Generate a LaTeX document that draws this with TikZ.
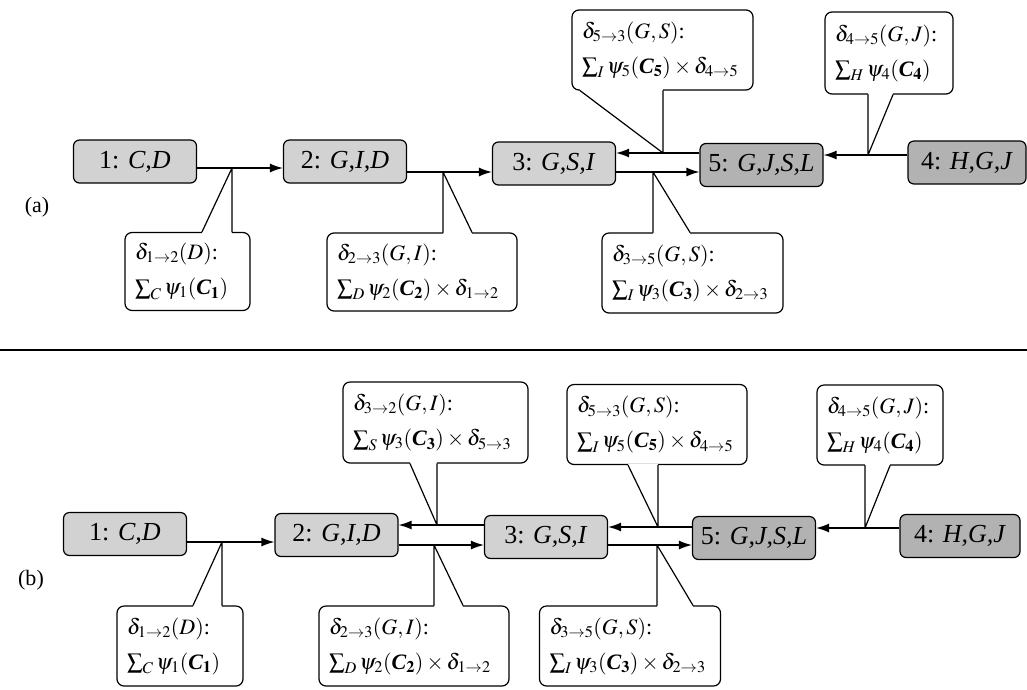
\documentclass[tikz,border=0pt]{standalone}
\usepackage{mathptmx}
\usepackage[no-math]{fontspec}
\setmainfont{Liberation Serif}
\usetikzlibrary{arrows.meta}
\newcommand{\myC}{\mbox{\bfseries\itshape C}}
\tikzset{
  nd/.style={draw, line width=1.2pt, rounded corners=6pt, minimum width=123pt, minimum height=43pt, inner sep=0pt, font=\fontsize{26}{30}\selectfont},
  ndl/.style={nd, fill=gray!35},
  ndd/.style={nd, fill=gray!60},
  cbox/.style={draw, line width=1.2pt, rounded corners=7pt, fill=white, inner xsep=10pt, inner ysep=0pt, align=left, font=\fontsize{22}{35}\selectfont},
  cline/.style={line width=1.2pt, line join=round, line cap=round},
  arr/.style={-{Latex[length=13pt,width=9pt]}, line width=1.3pt},
  lbl/.style={font=\fontsize{22}{26}\selectfont}
}
% #1 callout node, #2 tip coordinate, #3 x of slant base, #4 edge anchor
\newcommand{\mkptr}[4]{%
  \coordinate (pb) at (#3,0);
  \fill[white] (pb |- #1.#4) -- (#2) -- (#2 |- #1.#4) -- cycle;
  \fill[white] ([yshift=-1.6pt]pb |- #1.#4) rectangle ([yshift=1.6pt]#2 |- #1.#4);
  \draw[cline] (pb |- #1.#4) -- (#2) -- (#2 |- #1.#4);
}
\begin{document}
\begin{tikzpicture}[x=1pt,y=-1pt]
\useasboundingbox (0,0) rectangle (1027,689);

% ---------- panel (a) ----------
\node[ndl] (n1a) at (135,161.5) {1: \textit{C,D}};
\node[ndl] (n2a) at (345,161.5) {2: \textit{G,I,D}};
\node[ndl] (n3a) at (554,163.5) {3: \textit{G,S,I}};
\node[ndd] (n5a) at (761.5,165) {5: \textit{G,J,S,L}};
\node[ndd, minimum width=118pt] (n4a) at (967,162.5) {4: \textit{H,G,J}};

\coordinate (t12a) at (232,168);
\coordinate (t23a) at (443,172);
\coordinate (t35a) at (653,172);
\coordinate (t53a) at (663,153);
\coordinate (t45a) at (868,155);

\node[cbox, text width=105pt, minimum height=78pt] (c12a) at (187.5,271.5)
  {$\delta_{1\to2}(D)$:\\ $\sum_C \psi_1(\myC_{\mathbf 1})$};
\node[cbox, text width=170pt, minimum height=78pt] (c23a) at (422,272)
  {$\delta_{2\to3}(G,I)$:\\ $\sum_D \psi_2(\myC_{\mathbf 2})\times\delta_{1\to2}$};
\node[cbox, text width=161pt, minimum height=80pt] (c35a) at (692.5,273)
  {$\delta_{3\to5}(G,S)$:\\ $\sum_I \psi_3(\myC_{\mathbf 3})\times\delta_{2\to3}$};
\node[cbox, text width=161pt, minimum height=80pt] (c53a) at (662.5,50)
  {$\delta_{5\to3}(G,S)$:\\ $\sum_I \psi_5(\myC_{\mathbf 5})\times\delta_{4\to5}$};
\node[cbox, text width=108pt, minimum height=82pt] (c45a) at (889,53)
  {$\delta_{4\to5}(G,J)$:\\ $\sum_H \psi_4(\myC_{\mathbf 4})$};

\mkptr{c12a}{t12a}{202}{north}
\mkptr{c23a}{t23a}{472}{north}
\mkptr{c35a}{t35a}{690}{north}
\mkptr{c53a}{t53a}{580}{south}
\mkptr{c45a}{t45a}{893}{south}

\draw[arr] ([yshift=-6.5pt]n1a.east) -- ([yshift=-6.5pt]n2a.west);
\draw[arr] ([yshift=-10.5pt]n2a.east) -- ([yshift=-8.5pt]n3a.west);
\draw[arr] ([yshift=12pt]n5a.west) -- ([yshift=10.5pt]n3a.east);
\draw[arr] ([yshift=-8.5pt]n3a.east) -- ([yshift=-7pt]n5a.west);
\draw[arr] ([yshift=7.5pt]n4a.west) -- ([yshift=10pt]n5a.east);

\node[lbl] (la) at (37,207) {(a)};

% ---------- separator ----------
\coordinate (sepL) at (0,350);
\coordinate (sepR) at (1027,350);
\draw[line width=1.3pt] (sepL) -- (sepR);

% ---------- panel (b) ----------
\node[ndl] (n1b) at (125,534) {1: \textit{C,D}};
\node[ndl] (n2b) at (336.5,535) {2: \textit{G,I,D}};
\node[ndl] (n3b) at (546,537) {3: \textit{G,S,I}};
\node[ndd] (n5b) at (754,538) {5: \textit{G,J,S,L}};
\node[ndd, minimum width=120pt] (n4b) at (960,536) {4: \textit{H,G,J}};

\coordinate (t12b) at (222,542);
\coordinate (t23b) at (434,545);
\coordinate (t35b) at (657,545);
\coordinate (t32b) at (437,525);
\coordinate (t53b) at (658,527);
\coordinate (t45b) at (865,528);

\node[cbox, text width=165pt, minimum height=81pt] (c32b) at (435.5,422.5)
  {$\delta_{3\to2}(G,I)$:\\ $\sum_S \psi_3(\myC_{\mathbf 3})\times\delta_{5\to3}$};
\node[cbox, text width=160pt, minimum height=80pt] (c53b) at (657,424.5)
  {$\delta_{5\to3}(G,S)$:\\ $\sum_I \psi_5(\myC_{\mathbf 5})\times\delta_{4\to5}$};
\node[cbox, text width=106pt, minimum height=80pt] (c45b) at (880,425)
  {$\delta_{4\to5}(G,J)$:\\ $\sum_H \psi_4(\myC_{\mathbf 4})$};
\node[cbox, text width=106pt, minimum height=80pt] (c12b) at (180,646)
  {$\delta_{1\to2}(D)$:\\ $\sum_C \psi_1(\myC_{\mathbf 1})$};
\node[cbox, text width=170pt, minimum height=80pt] (c23b) at (414,646)
  {$\delta_{2\to3}(G,I)$:\\ $\sum_D \psi_2(\myC_{\mathbf 2})\times\delta_{1\to2}$};
\node[cbox, text width=161pt, minimum height=80pt] (c35b) at (630,646)
  {$\delta_{3\to5}(G,S)$:\\ $\sum_I \psi_3(\myC_{\mathbf 3})\times\delta_{2\to3}$};

\mkptr{c32b}{t32b}{410}{south}
\mkptr{c53b}{t53b}{628}{south}
\mkptr{c45b}{t45b}{890}{south}
\mkptr{c12b}{t12b}{193}{north}
\mkptr{c23b}{t23b}{463}{north}
\mkptr{c35b}{t35b}{693}{north}

\draw[arr] ([yshift=-8pt]n1b.east) -- ([yshift=-7pt]n2b.west);
\draw[arr] ([yshift=12pt]n3b.west) -- ([yshift=10pt]n2b.east);
\draw[arr] ([yshift=-10pt]n2b.east) -- ([yshift=-8pt]n3b.west);
\draw[arr] ([yshift=11pt]n5b.west) -- ([yshift=10pt]n3b.east);
\draw[arr] ([yshift=-8pt]n3b.east) -- ([yshift=-7pt]n5b.west);
\draw[arr] ([yshift=8pt]n4b.west) -- ([yshift=10pt]n5b.east);

\node[lbl] (lb) at (31,580) {(b)};
\end{tikzpicture}
\end{document}
